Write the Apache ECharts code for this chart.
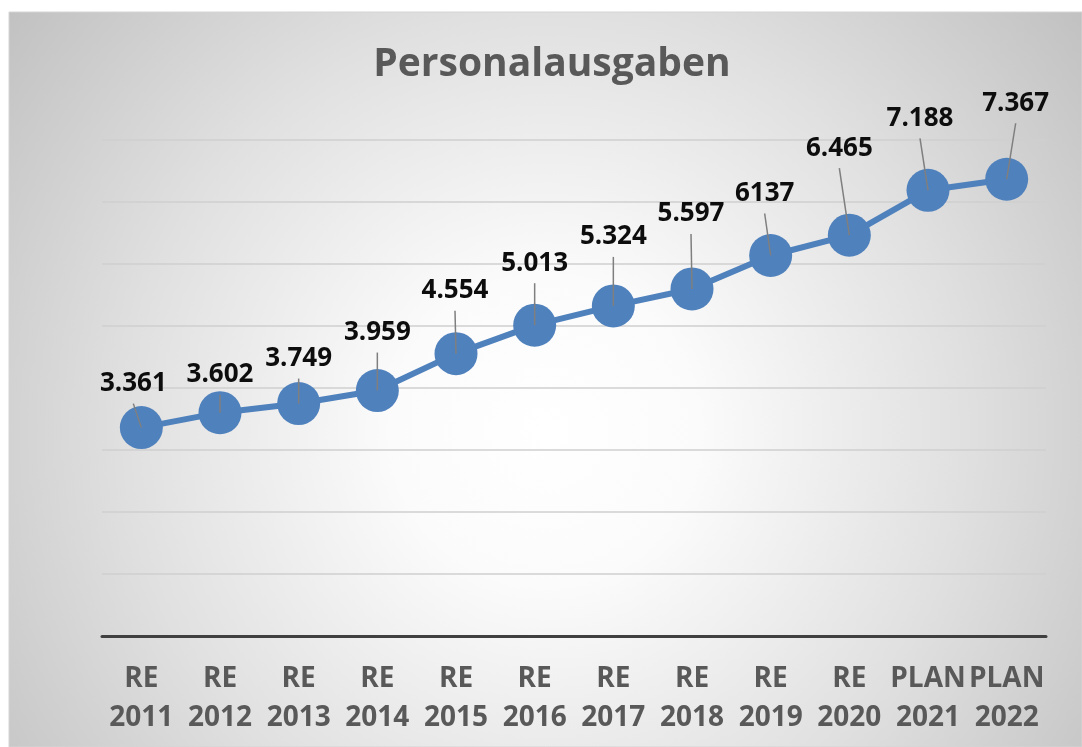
<!DOCTYPE html>
<html>
<head>
<meta charset="utf-8">
<title>Personalausgaben</title>
<script src="https://cdn.jsdelivr.net/npm/echarts@6/dist/echarts.min.js"></script>
<style>
  html, body { margin: 0; padding: 0; background: #ffffff; }
  #chart { width: 1082px; height: 747px; }
</style>
</head>
<body>
<div id="chart"></div>
<script>
// Kategorien und Werte (Mio.)
var categories = ["RE\n2011", "RE\n2012", "RE\n2013", "RE\n2014", "RE\n2015", "RE\n2016",
  "RE\n2017", "RE\n2018", "RE\n2019", "RE\n2020", "PLAN\n2021", "PLAN\n2022"];
var values = [3.361, 3.602, 3.749, 3.959, 4.554, 5.013, 5.324, 5.597, 6.137, 6.465, 7.188, 7.367];
// Beschriftung wie im Original (2019 ohne Punkt)
var labelTexts = ["3.361", "3.602", "3.749", "3.959", "4.554", "5.013",
  "5.324", "5.597", "6137", "6.465", "7.188", "7.367"];

// Lage der Beschriftung relativ zum Punkt (px)
var labelOffsets = [[-8, -44], [0, -38], [0, -45], [0, -58], [-1, -63], [0, -62],
  [0, -69], [-1, -75], [-6, -62], [-10, -87], [-8, -72], [9, -76]];

var chart = echarts.init(document.getElementById("chart"));

var option = {
  animation: false,
  graphic: [
    {
      type: "rect",
      z: -10,
      silent: true,
      shape: { x: 9, y: 12, width: 1073, height: 735 },
      style: {
        fill: new echarts.graphic.RadialGradient(0.5, 0.57, 0.95, [
          { offset: 0, color: "#ffffff" },
          { offset: 0.22, color: "#fbfbfb" },
          { offset: 0.6, color: "#e0e0e0" },
          { offset: 1, color: "#bfbfbf" }
        ]),
        stroke: "#d4d4d4",
        lineWidth: 1
      }
    },
    {
      type: "text",
      x: 552,
      y: 65,
      silent: true,
      style: {
        text: "Personalausgaben",
        fill: "#595959",
        font: "bold 39px 'Open Sans'",
        textAlign: "center",
        textVerticalAlign: "middle"
      }
    }
  ],
  grid: { left: 102, right: 36, top: 140, bottom: 111 },
  xAxis: {
    type: "category",
    data: categories,
    axisTick: { show: false },
    axisLine: { lineStyle: { color: "#404040", width: 3 } },
    axisLabel: {
      margin: 24,
      color: "#595959",
      fontFamily: "Open Sans",
      fontWeight: "bold",
      fontSize: 28,
      lineHeight: 39,
      interval: 0
    }
  },
  yAxis: {
    type: "value",
    min: 0,
    max: 8,
    interval: 1,
    axisLabel: { show: false },
    axisLine: { show: false },
    axisTick: { show: false },
    splitLine: { lineStyle: { color: "#cfcfcf", width: 1.5 } }
  },
  series: [
    {
      type: "line",
      z: 2,
      data: values.map(function (v, i) {
        return {
          value: v,
          label: { offset: labelOffsets[i] }
        };
      }),
      symbol: "circle",
      symbolSize: 43,
      lineStyle: { color: "#4f81bd", width: 6 },
      itemStyle: { color: "#4f81bd" },
      emphasis: { disabled: true },
      label: {
        show: true,
        position: "inside",
        color: "#0d0d0d",
        fontFamily: "Open Sans",
        fontWeight: "bold",
        fontSize: 26,
        formatter: function (p) { return labelTexts[p.dataIndex]; }
      }
    },
    {
      // Verbindungslinien zwischen Punkt und Beschriftung
      type: "custom",
      z: 3,
      silent: true,
      data: values.map(function (v, i) { return [i, v]; }),
      renderItem: function (params, api) {
        var p = api.coord([api.value(0), api.value(1)]);
        var o = labelOffsets[params.dataIndex];
        return {
          type: "line",
          shape: { x1: p[0], y1: p[1], x2: p[0] + o[0], y2: p[1] + o[1] + 20 },
          style: { stroke: "#7f7f7f", lineWidth: 1.5 }
        };
      }
    }
  ]
};

chart.setOption(option);
</script>
</body>
</html>
